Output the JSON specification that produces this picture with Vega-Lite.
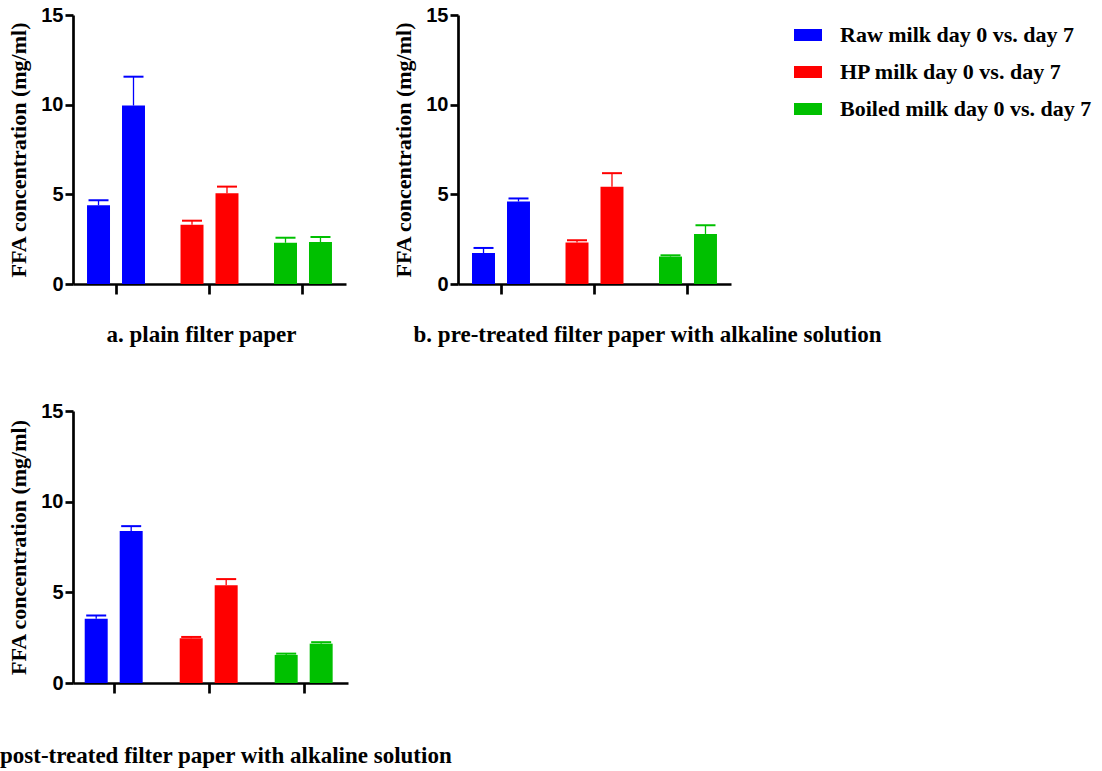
{
  "$schema": "https://vega.github.io/schema/vega-lite/v6.json",
  "padding": {"left": -23, "top": 5, "right": 0, "bottom": 0},
  "background": "white",
  "data": {
    "values": [
      {"panel": "a", "group": "Raw milk day 0 vs. day 7", "day": "day 0", "mean": 4.39, "upper": 4.67},
      {"panel": "a", "group": "Raw milk day 0 vs. day 7", "day": "day 7", "mean": 9.95, "upper": 11.56},
      {"panel": "a", "group": "HP milk day 0 vs. day 7", "day": "day 0", "mean": 3.31, "upper": 3.53},
      {"panel": "a", "group": "HP milk day 0 vs. day 7", "day": "day 7", "mean": 5.06, "upper": 5.43},
      {"panel": "a", "group": "Boiled milk day 0 vs. day 7", "day": "day 0", "mean": 2.30, "upper": 2.58},
      {"panel": "a", "group": "Boiled milk day 0 vs. day 7", "day": "day 7", "mean": 2.34, "upper": 2.62},
      {"panel": "b", "group": "Raw milk day 0 vs. day 7", "day": "day 0", "mean": 1.73, "upper": 2.01},
      {"panel": "b", "group": "Raw milk day 0 vs. day 7", "day": "day 7", "mean": 4.60, "upper": 4.77},
      {"panel": "b", "group": "HP milk day 0 vs. day 7", "day": "day 0", "mean": 2.32, "upper": 2.44},
      {"panel": "b", "group": "HP milk day 0 vs. day 7", "day": "day 7", "mean": 5.42, "upper": 6.18},
      {"panel": "b", "group": "Boiled milk day 0 vs. day 7", "day": "day 0", "mean": 1.53, "upper": 1.60},
      {"panel": "b", "group": "Boiled milk day 0 vs. day 7", "day": "day 7", "mean": 2.79, "upper": 3.27},
      {"panel": "c", "group": "Raw milk day 0 vs. day 7", "day": "day 0", "mean": 3.55, "upper": 3.72},
      {"panel": "c", "group": "Raw milk day 0 vs. day 7", "day": "day 7", "mean": 8.38, "upper": 8.65},
      {"panel": "c", "group": "HP milk day 0 vs. day 7", "day": "day 0", "mean": 2.47, "upper": 2.54},
      {"panel": "c", "group": "HP milk day 0 vs. day 7", "day": "day 7", "mean": 5.39, "upper": 5.73},
      {"panel": "c", "group": "Boiled milk day 0 vs. day 7", "day": "day 0", "mean": 1.55, "upper": 1.62},
      {"panel": "c", "group": "Boiled milk day 0 vs. day 7", "day": "day 7", "mean": 2.17, "upper": 2.25}
    ]
  },
  "config": {
    "view": {"stroke": null},
    "axis": {
      "domainColor": "black", "domainWidth": 2.7, "tickColor": "black", "tickWidth": 2.7,
      "grid": false, "labelColor": "black", "titleColor": "black",
      "labelFont": "Liberation Sans", "labelFontWeight": "bold", "labelFontSize": 20,
      "titleFont": "Liberation Serif", "titleFontWeight": "bold", "titleFontSize": 22
    },
    "axisY": {"tickSize": 8, "labelPadding": 2, "titlePadding": 10},
    "axisX": {"labels": false, "tickSize": 10, "titleFontSize": 23},
    "legend": {
      "labelFont": "Liberation Serif", "labelFontWeight": "bold", "labelFontSize": 22, "labelColor": "black", "labelLimit": 500
    }
  },
  "columns": 2,
  "spacing": {"row": 127, "column": 110},
  "bounds": "flush",
  "concat": [
    {
      "width": 273, "height": 269,
      "transform": [{"filter": "datum.panel === 'a'"}],
      "encoding": {
        "x": {"field": "group", "type": "nominal", "sort": ["Raw milk day 0 vs. day 7", "HP milk day 0 vs. day 7", "Boiled milk day 0 vs. day 7"],
              "scale": {"paddingInner": 0.38, "paddingOuter": 0.15},
              "axis": {"title": "a. plain filter paper", "titlePadding": 28, "titleX": 128}},
        "xOffset": {"field": "day", "type": "nominal", "scale": {"paddingInner": 0.343, "paddingOuter": 0}},
        "color": {"field": "group", "type": "nominal",
                  "scale": {"domain": ["Raw milk day 0 vs. day 7", "HP milk day 0 vs. day 7", "Boiled milk day 0 vs. day 7"], "range": ["#0000ff", "#ff0000", "#00c000"]},
                  "legend": {"orient": "none", "legendX": 721, "legendY": 6, "title": null, "padding": 0,
                             "symbolType": "M-1,-0.43H1V0.43H-1Z", "symbolSize": 784, "symbolStrokeWidth": 0, "symbolOpacity": 1,
                             "labelOffset": 18, "rowPadding": 12}}
      },
      "layer": [
        {"mark": {"type": "bar"},
         "encoding": {"y": {"field": "mean", "type": "quantitative", "scale": {"domain": [0, 15], "nice": false},
                            "axis": {"title": "FFA concentration (mg/ml)", "values": [0, 5, 10, 15]}}}},
        {"mark": {"type": "rule", "strokeWidth": 1.3},
         "encoding": {"y": {"field": "mean", "type": "quantitative", "axis": {"title": "FFA concentration (mg/ml)", "values": [0, 5, 10, 15]}}, "y2": {"field": "upper"}}},
        {"mark": {"type": "tick", "thickness": 2, "size": 20, "opacity": 1},
         "encoding": {"y": {"field": "upper", "type": "quantitative", "axis": {"title": "FFA concentration (mg/ml)", "values": [0, 5, 10, 15]}}}}
      ]
    },
    {
      "width": 273, "height": 269,
      "transform": [{"filter": "datum.panel === 'b'"}],
      "encoding": {
        "x": {"field": "group", "type": "nominal", "sort": ["Raw milk day 0 vs. day 7", "HP milk day 0 vs. day 7", "Boiled milk day 0 vs. day 7"],
              "scale": {"paddingInner": 0.38, "paddingOuter": 0.15},
              "axis": {"title": "b. pre-treated filter paper with alkaline solution", "titlePadding": 28, "titleX": 189}},
        "xOffset": {"field": "day", "type": "nominal", "scale": {"paddingInner": 0.343, "paddingOuter": 0}},
        "color": {"field": "group", "type": "nominal"}
      },
      "layer": [
        {"mark": {"type": "bar"},
         "encoding": {"y": {"field": "mean", "type": "quantitative", "scale": {"domain": [0, 15], "nice": false},
                            "axis": {"title": "FFA concentration (mg/ml)", "values": [0, 5, 10, 15]}}}},
        {"mark": {"type": "rule", "strokeWidth": 1.3},
         "encoding": {"y": {"field": "mean", "type": "quantitative", "axis": {"title": "FFA concentration (mg/ml)", "values": [0, 5, 10, 15]}}, "y2": {"field": "upper"}}},
        {"mark": {"type": "tick", "thickness": 2, "size": 20, "opacity": 1},
         "encoding": {"y": {"field": "upper", "type": "quantitative", "axis": {"title": "FFA concentration (mg/ml)", "values": [0, 5, 10, 15]}}}}
      ]
    },
    {
      "width": 275, "height": 272,
      "transform": [{"filter": "datum.panel === 'c'"}],
      "encoding": {
        "x": {"field": "group", "type": "nominal", "sort": ["Raw milk day 0 vs. day 7", "HP milk day 0 vs. day 7", "Boiled milk day 0 vs. day 7"],
              "scale": {"paddingInner": 0.379, "paddingOuter": 0.137, "align": 0.45},
              "axis": {"title": "c. post-treated filter paper with alkaline solution", "titlePadding": 50, "titleX": 141.5}},
        "xOffset": {"field": "day", "type": "nominal", "scale": {"paddingInner": 0.343, "paddingOuter": 0}},
        "color": {"field": "group", "type": "nominal"}
      },
      "layer": [
        {"mark": {"type": "bar"},
         "encoding": {"y": {"field": "mean", "type": "quantitative", "scale": {"domain": [0, 15], "nice": false},
                            "axis": {"title": "FFA concentration (mg/ml)", "values": [0, 5, 10, 15]}}}},
        {"mark": {"type": "rule", "strokeWidth": 1.3},
         "encoding": {"y": {"field": "mean", "type": "quantitative", "axis": {"title": "FFA concentration (mg/ml)", "values": [0, 5, 10, 15]}}, "y2": {"field": "upper"}}},
        {"mark": {"type": "tick", "thickness": 2, "size": 20, "opacity": 1},
         "encoding": {"y": {"field": "upper", "type": "quantitative", "axis": {"title": "FFA concentration (mg/ml)", "values": [0, 5, 10, 15]}}}}
      ]
    }
  ]
}
